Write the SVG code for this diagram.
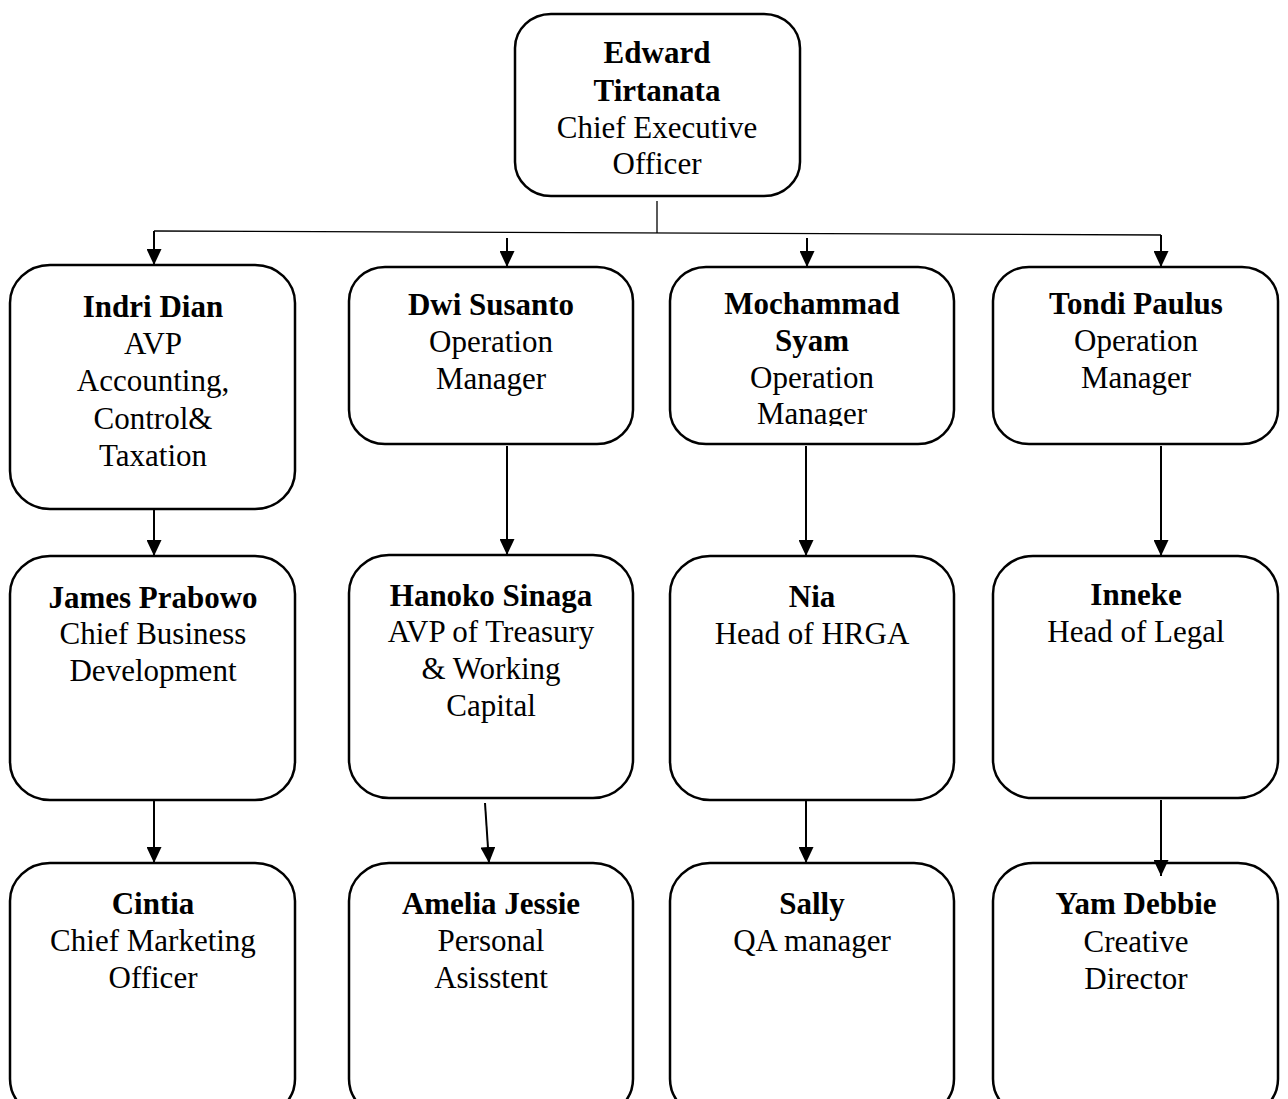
<svg xmlns="http://www.w3.org/2000/svg" width="1288" height="1099" viewBox="0 0 1288 1099">
<style>
.box{fill:#fff;stroke:#000;stroke-width:2.5}
text{font-family:"Liberation Serif","Times New Roman",serif;font-size:31px;text-anchor:middle;fill:#000}
.b{font-weight:bold}
.ln{stroke:#000;stroke-width:2;fill:none}
.thin{stroke:#000;stroke-width:1.3;fill:none}
</style>
<defs>
<marker id="ah" markerUnits="userSpaceOnUse" markerWidth="16" markerHeight="15" refX="16" refY="7.5" orient="auto" viewBox="0 0 16 15">
<path d="M0,0 L16,7.5 L0,15 Z" fill="#000"/>
</marker>
<clipPath id="clipM"><rect x="670" y="267" width="284" height="159"/></clipPath>
</defs>
<rect width="1288" height="1099" fill="#fff"/>
<g id="connectors">
<line class="thin" x1="657" y1="201" x2="657" y2="233"/>
<line class="thin" x1="154" y1="231" x2="1161" y2="235"/>
<line class="ln" x1="154" y1="231" x2="154" y2="265" marker-end="url(#ah)"/>
<line class="ln" x1="507" y1="238" x2="507" y2="267" marker-end="url(#ah)"/>
<line class="ln" x1="807" y1="238" x2="807" y2="267" marker-end="url(#ah)"/>
<line class="ln" x1="1161" y1="235" x2="1161" y2="267" marker-end="url(#ah)"/>
<line class="ln" x1="154" y1="509" x2="154" y2="556" marker-end="url(#ah)"/>
<line class="ln" x1="507" y1="446" x2="507" y2="555" marker-end="url(#ah)"/>
<line class="ln" x1="806" y1="446" x2="806" y2="556" marker-end="url(#ah)"/>
<line class="ln" x1="1161" y1="446" x2="1161" y2="556" marker-end="url(#ah)"/>
<line class="ln" x1="154" y1="800" x2="154" y2="863" marker-end="url(#ah)"/>
<line class="ln" x1="485" y1="803" x2="489" y2="863" marker-end="url(#ah)"/>
<line class="ln" x1="806" y1="800" x2="806" y2="863" marker-end="url(#ah)"/>
</g>
<g id="n-edward">
<rect class="box" x="515" y="14" width="285" height="182" rx="36" ry="34"/>
<text class="b" x="657" y="63">Edward</text>
<text class="b" x="657" y="101">Tirtanata</text>
<text x="657" y="138">Chief Executive</text>
<text x="657" y="174">Officer</text>
</g>
<g id="n-indri">
<rect class="box" x="10" y="265" width="285" height="244" rx="40" ry="38"/>
<text class="b" x="153" y="317">Indri Dian</text>
<text x="153" y="354">AVP</text>
<text x="153" y="391">Accounting,</text>
<text x="153" y="429">Control&amp;</text>
<text x="153" y="466">Taxation</text>
</g>
<g id="n-dwi">
<rect class="box" x="349" y="267" width="284" height="177" rx="36" ry="34"/>
<text class="b" x="491" y="315">Dwi Susanto</text>
<text x="491" y="352">Operation</text>
<text x="491" y="389">Manager</text>
</g>
<g id="n-mochammad">
<rect class="box" x="670" y="267" width="284" height="177" rx="36" ry="34"/>
<g clip-path="url(#clipM)">
<text class="b" x="812" y="314">Mochammad</text>
<text class="b" x="812" y="351">Syam</text>
<text x="812" y="388">Operation</text>
<text x="812" y="424">Manager</text>
</g>
</g>
<g id="n-tondi">
<rect class="box" x="993" y="267" width="285" height="177" rx="36" ry="34"/>
<text class="b" x="1136" y="314">Tondi Paulus</text>
<text x="1136" y="351">Operation</text>
<text x="1136" y="388">Manager</text>
</g>
<g id="n-james">
<rect class="box" x="10" y="556" width="285" height="244" rx="40" ry="38"/>
<text class="b" x="153" y="608">James Prabowo</text>
<text x="153" y="644">Chief Business</text>
<text x="153" y="681">Development</text>
</g>
<g id="n-hanoko">
<rect class="box" x="349" y="555" width="284" height="243" rx="40" ry="38"/>
<text class="b" x="491" y="606">Hanoko Sinaga</text>
<text x="491" y="642">AVP of Treasury</text>
<text x="491" y="679">&amp; Working</text>
<text x="491" y="716">Capital</text>
</g>
<g id="n-nia">
<rect class="box" x="670" y="556" width="284" height="244" rx="40" ry="38"/>
<text class="b" x="812" y="607">Nia</text>
<text x="812" y="644">Head of HRGA</text>
</g>
<g id="n-inneke">
<rect class="box" x="993" y="556" width="285" height="242" rx="40" ry="38"/>
<text class="b" x="1136" y="605">Inneke</text>
<text x="1136" y="642">Head of Legal</text>
</g>
<g id="n-cintia">
<rect class="box" x="10" y="863" width="285" height="254" rx="40" ry="38"/>
<text class="b" x="153" y="914">Cintia</text>
<text x="153" y="951">Chief Marketing</text>
<text x="153" y="988">Officer</text>
</g>
<g id="n-amelia">
<rect class="box" x="349" y="863" width="284" height="254" rx="40" ry="38"/>
<text class="b" x="491" y="914">Amelia Jessie</text>
<text x="491" y="951">Personal</text>
<text x="491" y="988">Asisstent</text>
</g>
<g id="n-sally">
<rect class="box" x="670" y="863" width="284" height="254" rx="40" ry="38"/>
<text class="b" x="812" y="914">Sally</text>
<text x="812" y="951">QA manager</text>
</g>
<g id="n-yam">
<rect class="box" x="993" y="863" width="285" height="254" rx="40" ry="38"/>
<text class="b" x="1136" y="914">Yam Debbie</text>
<text x="1136" y="952">Creative</text>
<text x="1136" y="989">Director</text>
</g>
<g id="yam-arrow">
<line class="ln" x1="1161" y1="800" x2="1161" y2="876" marker-end="url(#ah)"/>
</g>
</svg>
